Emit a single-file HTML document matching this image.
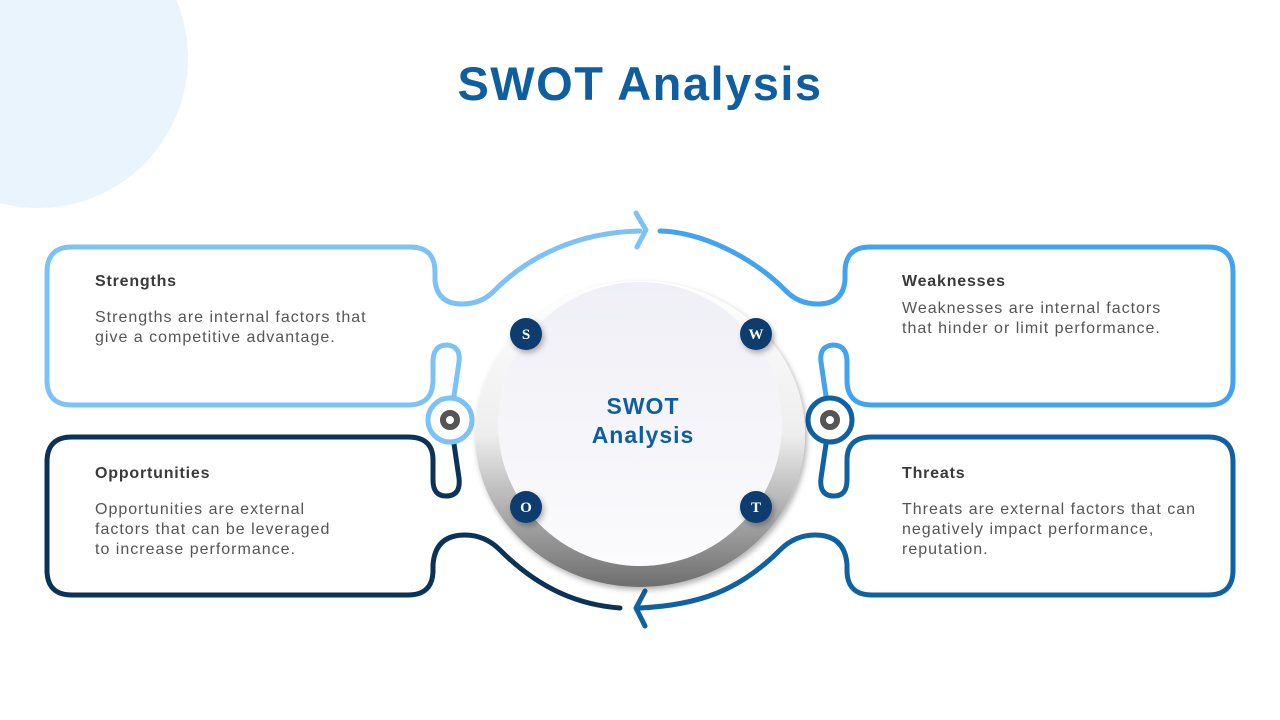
<!DOCTYPE html>
<html><head><meta charset="utf-8"><style>
html,body{margin:0;padding:0;background:#fff;}
body{width:1280px;height:720px;position:relative;overflow:hidden;font-family:"Liberation Sans",sans-serif;}
.t{position:absolute;font-size:16px;color:#555;line-height:20px;letter-spacing:1px;white-space:nowrap;}
.h{position:absolute;font-size:16px;font-weight:bold;color:#3a3a3a;letter-spacing:0.8px;}
</style></head><body>
<svg width="1280" height="720" style="position:absolute;left:0;top:0">
<defs>
<linearGradient id="og" x1="0" y1="0" x2="0" y2="1">
<stop offset="0" stop-color="#ffffff"/><stop offset="0.5" stop-color="#eeeeee"/><stop offset="1" stop-color="#6e6e6e"/>
</linearGradient>
<linearGradient id="ig" x1="0" y1="0" x2="0" y2="1">
<stop offset="0" stop-color="#efeff6"/><stop offset="1" stop-color="#fbfbfd"/>
</linearGradient>
<filter id="sh" x="-50%" y="-50%" width="200%" height="200%"><feDropShadow dx="2" dy="3" stdDeviation="3" flood-opacity="0.3"/></filter>
</defs>
<circle cx="38" cy="58" r="150" fill="#eaf4fd"/>
<g fill="none" stroke-width="5" stroke-linecap="round" stroke-linejoin="round">
<path stroke="#7dc2f5" d="M640 231 C580 232 530 255 495 290 Q482 304 462 304 Q437 304 435 280 V272 Q435 247 410 247 H72 Q47 247 47 272 V380 Q47 405 72 405 H408 Q433 405 433 380 V362 Q433 345 447 345 Q461 346 459 362 L454 396"/>
<path stroke="#0c3357" d="M454 444 L459 478 Q461 496 446 496 Q433 496 433 480 V460 Q433 437 408 437 H72 Q47 437 47 462 V570 Q47 595 72 595 H408 Q433 595 433 570 V565 Q435 535 465 535 Q485 535 500 550 C540 590 580 605 620 608"/>
<g transform="translate(1280,0) scale(-1,1)">
<path stroke="#42a3ef" d="M620 231 C580 232 530 255 495 290 Q482 304 462 304 Q437 304 435 280 V272 Q435 247 410 247 H72 Q47 247 47 272 V380 Q47 405 72 405 H408 Q433 405 433 380 V362 Q433 345 447 345 Q461 346 459 362 L454 396"/>
<path stroke="#1061a1" d="M454 444 L459 478 Q461 496 446 496 Q433 496 433 480 V460 Q433 437 408 437 H72 Q47 437 47 462 V570 Q47 595 72 595 H408 Q433 595 433 570 V565 Q435 535 465 535 Q485 535 500 550 C540 590 580 605 640 608"/>
</g>
<path stroke="#7dc2f5" d="M636 213 L646 230 L637 247"/>
<path stroke="#1061a1" d="M645 591 L636 608 L645 626"/>
<circle cx="450" cy="420" r="22" stroke="#7dc2f5"/>
<circle cx="830" cy="420" r="22" stroke="#1061a1"/>
<circle cx="450" cy="420" r="7" stroke="#555" stroke-width="6"/>
<circle cx="830" cy="420" r="7" stroke="#555" stroke-width="6"/>
</g>
<ellipse cx="640" cy="434" rx="165" ry="153" fill="url(#og)" filter="url(#sh)"/>
<circle cx="640" cy="424" r="142" fill="url(#ig)"/>
<g filter="url(#sh)" fill="#0d3e6e">
<circle cx="526" cy="334" r="16"/><circle cx="756" cy="334" r="16"/>
<circle cx="526" cy="507" r="16"/><circle cx="756" cy="507" r="16"/>
</g>
<g fill="#fff" font-family="Liberation Serif,serif" font-weight="bold" font-size="15" text-anchor="middle">
<text x="526" y="339">S</text><text x="756" y="339">W</text>
<text x="526" y="512">O</text><text x="756" y="512">T</text>
</g>
<g fill="#0f5fa0" font-family="Liberation Sans,sans-serif" font-weight="bold" text-anchor="middle">
<text x="640" y="100" font-size="47" letter-spacing="1.5">SWOT Analysis</text>
<text x="643" y="414" font-size="23" letter-spacing="1">SWOT</text>
<text x="643" y="443" font-size="23" letter-spacing="1">Analysis</text>
</g>
</svg>
<div class="h" style="left:95px;top:273px">Strengths</div>
<div class="t" style="left:95px;top:308px">Strengths are internal factors that<br>give a competitive advantage.</div>
<div class="h" style="left:902px;top:273px">Weaknesses</div>
<div class="t" style="left:902px;top:299px">Weaknesses are internal factors<br>that hinder or limit performance.</div>
<div class="h" style="left:95px;top:465px">Opportunities</div>
<div class="t" style="left:95px;top:500px">Opportunities are external<br>factors that can be leveraged<br>to increase performance.</div>
<div class="h" style="left:902px;top:465px">Threats</div>
<div class="t" style="left:902px;top:500px">Threats are external factors that can<br>negatively impact performance,<br>reputation.</div>
</body></html>
